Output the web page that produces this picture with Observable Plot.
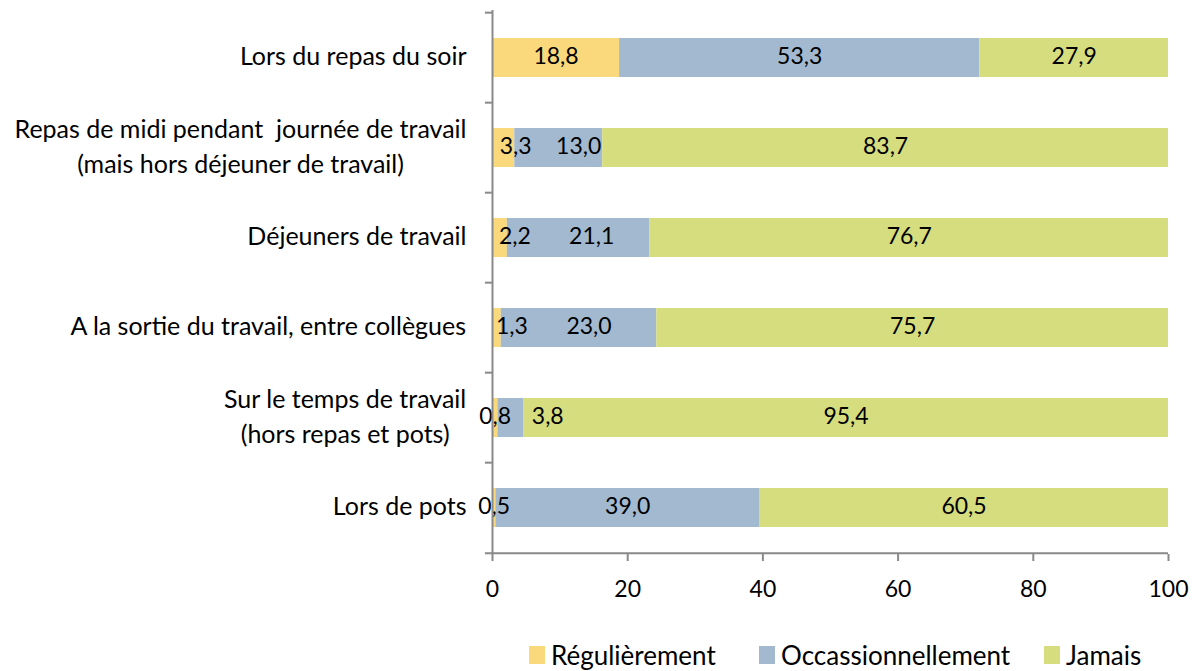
<!DOCTYPE html>
<html><head><meta charset="utf-8">
<script src="https://cdn.jsdelivr.net/npm/d3@7"></script>
<script src="https://cdn.jsdelivr.net/npm/@observablehq/plot@0.6"></script>
<style>
body{margin:0;background:#fff;font-family:Lato,sans-serif;width:1200px;height:671px;overflow:hidden}
#legend{position:relative;height:41px;}
.item{position:absolute;top:11px;display:flex;align-items:center;font-size:26px;color:#000;line-height:28px}
.sw{width:16px;height:18px;margin-right:6px}
</style></head><body><div id="chart"></div><div id="legend"></div>
<script>
const categories = [
  "Lors du repas du soir",
  "Repas de midi pendant  journée de travail\n(mais hors déjeuner de travail)",
  "Déjeuners de travail",
  "A la sortie du travail, entre collègues",
  "Sur le temps de travail\n(hors repas et pots)",
  "Lors de pots"
];
const seriesNames = ["Régulièrement", "Occassionnellement", "Jamais"];
const regulierement = [18.8, 3.3, 2.2, 1.3, 0.8, 0.5];
const occasionnellement = [53.3, 13.0, 21.1, 23.0, 3.8, 39.0];
const jamais = [27.9, 83.7, 76.7, 75.7, 95.4, 60.5];
const xTicks = [0, 20, 40, 60, 80, 100];
const colors = ["#FAD97C", "#A2B9D0", "#D6DD7E"];

const seriesValues = [regulierement, occasionnellement, jamais];
const table = [];
categories.forEach((c, i) => {
  let acc = 0;
  seriesValues.forEach((vals, s) => {
    const v = vals[i];
    table.push({cat: c, row: i, s, series: seriesNames[s], value: v, x1: acc, x2: acc + v});
    acc += v;
  });
});

// label nudges (px) replicating manual placement in the original
const nudge = {"1-0": 12, "1-1": 20, "2-0": 15, "2-1": 13, "3-0": 15, "3-1": 10, "4-1": 37};
const fmt = v => v.toFixed(1).replace(".", ",");

const W = 1200, H = 630, mTop = 10, mBottom = 76, mLeft = 492, mRight = 32;
const step = (H - mTop - mBottom) / categories.length;
const axisColor = "#898989";
const FS_Y = 25, FS_V = 23, FS_X = 23;

const ctx = document.createElement("canvas").getContext("2d");
ctx.font = `${FS_Y}px Lato`;
const textW = s => Math.max(...s.split("\n").map(l => ctx.measureText(l).width));

const groups = d3.group(table, d => nudge[`${d.row}-${d.s}`] || 0);
const labelMarks = Array.from(groups, ([dx, rows]) =>
  Plot.text(rows, {x: d => (d.x1 + d.x2) / 2, y: "cat", text: d => fmt(d.value), dx, dy: -1, fill: "black", fontSize: FS_V})
);
const yLabelMarks = categories.map(c =>
  Plot.text([c], {x: () => 0, y: d => d, text: d => d, textAnchor: "middle", lineAnchor: "middle", lineHeight: 1.4,
    dx: -26 - textW(c) / 2, dy: -4, fill: "black", fontSize: FS_Y, style: "white-space:pre"})
);

const chart = Plot.plot({
  width: W, height: H,
  marginTop: mTop, marginBottom: mBottom, marginLeft: mLeft, marginRight: mRight,
  style: {fontFamily: "Lato", fontSize: FS_Y + "px", background: "white"},
  x: {domain: [0, 100]},
  y: {domain: categories, paddingInner: 0.57, paddingOuter: 0.285, axis: null},
  color: {domain: seriesNames, range: colors},
  marks: [
    Plot.barX(table, {x1: "x1", x2: "x2", y: "cat", fill: "series"}),
    ...labelMarks,
    Plot.ruleX([0], {stroke: axisColor, strokeWidth: 2}),
    Plot.ruleY(categories, {y: d => d, x1: -1.05, x2: 0, dy: -step / 2, stroke: axisColor, strokeWidth: 2}),
    Plot.ruleY([categories[categories.length - 1]], {y: d => d, x1: -1.05, x2: 100, dy: step / 2, stroke: axisColor, strokeWidth: 2}),
    Plot.axisX(xTicks, {tickSize: 7, tickPadding: 19, fontSize: FS_X, stroke: axisColor, strokeWidth: 2, fill: "black", label: null}),
    ...yLabelMarks
  ]
});
document.getElementById("chart").appendChild(chart);

const legend = document.getElementById("legend");
const lefts = [529, 759, 1044];
seriesNames.forEach((n, i) => {
  const it = document.createElement("div");
  it.className = "item";
  it.style.left = lefts[i] + "px";
  it.innerHTML = `<div class="sw" style="background:${colors[i]}"></div><span>${n}</span>`;
  legend.appendChild(it);
});
</script>
</body></html>
